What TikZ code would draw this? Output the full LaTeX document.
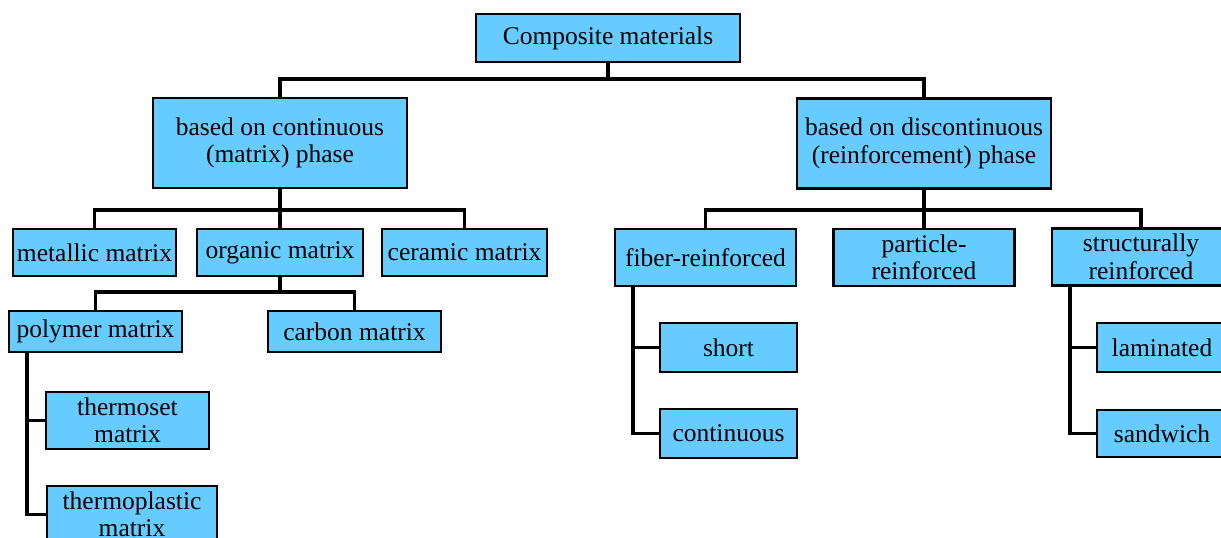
\documentclass[tikz,border=0pt]{standalone}
\usepackage{fontspec}
\setmainfont{Liberation Serif}
\definecolor{boxfill}{HTML}{66CCFF}
\tikzset{
  box/.style={draw=black, fill=boxfill, line width=2.2pt, inner sep=0pt,
    align=center, font=\fontsize{25.5}{27.5}\selectfont},
  link/.style={draw=black, line width=3.2pt}
}
\begin{document}
\begin{tikzpicture}[x=1pt, y=-1pt]
\useasboundingbox (0,0) rectangle (1221,538);
\clip (0,0) rectangle (1221,538);

% tree connectors go underneath the boxes
\coordinate (busroot) at (608,79);
\coordinate (buscont) at (280,210);
\coordinate (busdisc) at (924,210);
\coordinate (busorg) at (280,292);
\coordinate (spinepoly) at (27,352);
\coordinate (spinefiber) at (633,286);
\coordinate (spinestruct) at (1070,286);

% boxes
\node[box, minimum width=264pt, minimum height=48pt] (root) at (608,38) {Composite materials};
\node[box, minimum width=254pt, minimum height=90pt] (cont) at (280,143) {based on continuous\\(matrix) phase};
\node[box, minimum width=254pt, minimum height=90pt] (disc) at (924,143.5) {based on discontinuous\\(reinforcement) phase};

\node[box, minimum width=163pt, minimum height=47pt] (metal) at (94.5,252.5) {metallic matrix};
\node[box, minimum width=166pt, minimum height=47pt] (organic) at (280,252.5) {organic matrix};
\node[box, minimum width=165pt, minimum height=47pt] (ceramic) at (464.5,252.5) {ceramic matrix};

\node[box, minimum width=173pt, minimum height=41pt] (polymer) at (95.5,331.5) {polymer matrix};
\node[box, minimum width=173pt, minimum height=41pt] (carbon) at (354.5,331.5) {carbon matrix};

\node[box, minimum width=163pt, minimum height=57pt] (thermoset) at (127.5,420.5) {thermoset\\matrix};
\node[box, minimum width=170pt, minimum height=57pt] (thermoplastic) at (132,514.5) {thermoplastic\\matrix};

\node[box, minimum width=181pt, minimum height=57pt] (fiber) at (705.5,257.5) {fiber-reinforced};
\node[box, minimum width=181pt, minimum height=57pt] (particle) at (924,257.5) {particle-\\reinforced};
\node[box, minimum width=178pt, minimum height=57pt] (struct) at (1141,257) {structurally\\reinforced};

\node[box, minimum width=137pt, minimum height=49pt] (short) at (728.5,347.5) {short};
\node[box, minimum width=137pt, minimum height=49pt] (continuous) at (728.5,433.5) {continuous};
\node[box, minimum width=130pt, minimum height=49pt] (laminated) at (1162,347.5) {laminated};
\node[box, minimum width=130pt, minimum height=47pt] (sandwich) at (1162,433.5) {sandwich};

\draw[link] (root.south) -- (busroot) -| (cont.north);
\draw[link] (busroot) -| (disc.north);

\draw[link] (cont.south) -- (buscont) -| (metal.north);
\draw[link] (buscont) -- (organic.north);
\draw[link] (buscont) -| (ceramic.north);

\draw[link] (organic.south) -- (busorg) -| (polymer.north);
\draw[link] (busorg) -| (carbon.north);

\draw[link] (spinepoly) |- (thermoset.west);
\draw[link] (spinepoly) |- (thermoplastic.west);

\draw[link] (disc.south) -- (busdisc) -| (fiber.north);
\draw[link] (busdisc) -- (particle.north);
\draw[link] (busdisc) -| (struct.north);

\draw[link] (spinefiber) |- (short.west);
\draw[link] (spinefiber) |- (continuous.west);

\draw[link] (spinestruct) |- (laminated.west);
\draw[link] (spinestruct) |- (sandwich.west);
\end{tikzpicture}
\end{document}
